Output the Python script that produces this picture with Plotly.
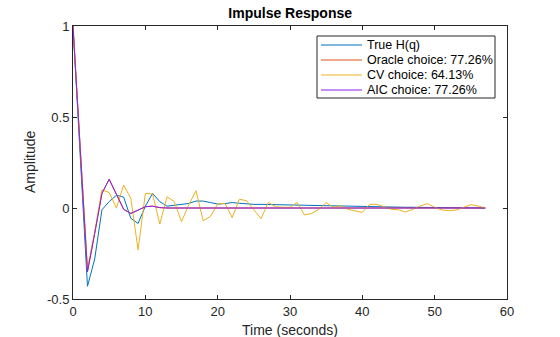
import plotly.graph_objects as go

t = list(range(58))

true_h = [1.0, 0.3, -0.43, -0.28, -0.01, 0.035, 0.07, 0.06, -0.057, -0.085,
          0.01, 0.08, 0.035, 0.01, 0.015, 0.02, 0.025, 0.038, 0.038, 0.03,
          0.022, 0.024, 0.03, 0.026, 0.022, 0.02, 0.02, 0.019, 0.018, 0.017,
          0.016, 0.015, 0.014, 0.013, 0.012, 0.011, 0.01, 0.009, 0.008, 0.007,
          0.007, 0.007, 0.006, 0.006, 0.005, 0.005, 0.004, 0.004, 0.003, 0.003,
          0.002, 0.002, 0.002, 0.001, 0.001, 0.001, 0.001, 0.0]

aic = [1.0, 0.33, -0.35, -0.14, 0.08, 0.158, 0.08, -0.007, -0.03, -0.01,
       0.007, 0.01, 0.002] + [0.0] * 45

oracle = list(aic)

cv = [1.0, 0.33, -0.33, -0.13, 0.1, 0.085, 0.0, 0.126, 0.053, -0.23,
      0.08, 0.077, -0.088, 0.062, 0.035, -0.075, 0.016, 0.095, -0.07, -0.046,
      0.022, 0.026, -0.053, 0.048, 0.04, -0.01, -0.059, 0.031, 0.007, 0.004,
      0.004, 0.03, -0.038, -0.03, -0.007, 0.03, 0.004, 0.013, -0.007, -0.016,
      -0.024, 0.02, 0.02, 0.007, -0.007, -0.01, -0.022, -0.007, 0.011, 0.024,
      0.004, -0.011, -0.015, -0.011, 0.004, 0.018, 0.011, 0.0]

names = ["True H(q)", "Oracle choice: 77.26%", "CV choice: 64.13%", "AIC choice: 77.26%"]
values = [true_h, oracle, cv, aic]
colors = ["#0072BD", "#D95319", "#EDB120", "#8A1FE6"]

fig = go.Figure()
for name, y, c in zip(names, values, colors):
    fig.add_trace(go.Scatter(x=t, y=y, mode="lines", name=name,
                             line=dict(color=c, width=1), showlegend=False))

font = "Liberation Sans, Arial, sans-serif"
axis_common = dict(showgrid=False, zeroline=False, showline=True, linecolor="#262626",
                   linewidth=1, mirror="ticks", ticks="inside", ticklen=4,
                   tickcolor="#262626", automargin=False,
                   tickfont=dict(family=font, size=13, color="#262626"))

# plot area in pixels: x 73..507, y 26..299
def px(x):
    return (x - 73) / 434.0

def py(y):
    return (299 - y) / 273.0

shapes = [dict(type="rect", xref="paper", yref="paper",
               x0=px(317), x1=px(495), y0=py(98), y1=py(36),
               line=dict(color="#262626", width=1), fillcolor="white", layer="above")]
annotations = []
row_y = [45, 60, 75, 90]
for name, c, ry in zip(names, colors, row_y):
    shapes.append(dict(type="line", xref="paper", yref="paper",
                       x0=px(321), x1=px(362), y0=py(ry), y1=py(ry),
                       line=dict(color=c, width=1), layer="above"))
    annotations.append(dict(text=name, xref="paper", yref="paper", x=px(365), y=py(ry),
                            xanchor="left", yanchor="middle", showarrow=False,
                            font=dict(family=font, size=12.5, color="black")))

annotations.append(dict(text="Time (seconds)", xref="paper", yref="paper",
                        x=0.5, y=py(330), xanchor="center", yanchor="middle",
                        showarrow=False, font=dict(family=font, size=14, color="#262626")))
annotations.append(dict(text="Amplitude", xref="paper", yref="paper",
                        x=px(30), y=py(162), xanchor="center", yanchor="middle",
                        textangle=-90, showarrow=False,
                        font=dict(family=font, size=14, color="#262626")))

fig.update_layout(
    width=560, height=337,
    margin=dict(l=73, r=53, t=26, b=38),
    paper_bgcolor="white", plot_bgcolor="white",
    title=dict(text="<b>Impulse Response</b>", x=0.5182, xanchor="center", y=0.962, yanchor="middle",
               font=dict(family=font, size=14, color="black")),
    xaxis=dict(range=[0, 60], tickvals=[0, 10, 20, 30, 40, 50, 60], **axis_common),
    yaxis=dict(range=[-0.5, 1], tickvals=[-0.5, 0, 0.5, 1],
               ticktext=["-0.5", "0", "0.5", "1"], **axis_common),
    shapes=shapes,
    annotations=annotations,
    showlegend=False,
)

fig.write_html("out.html")
